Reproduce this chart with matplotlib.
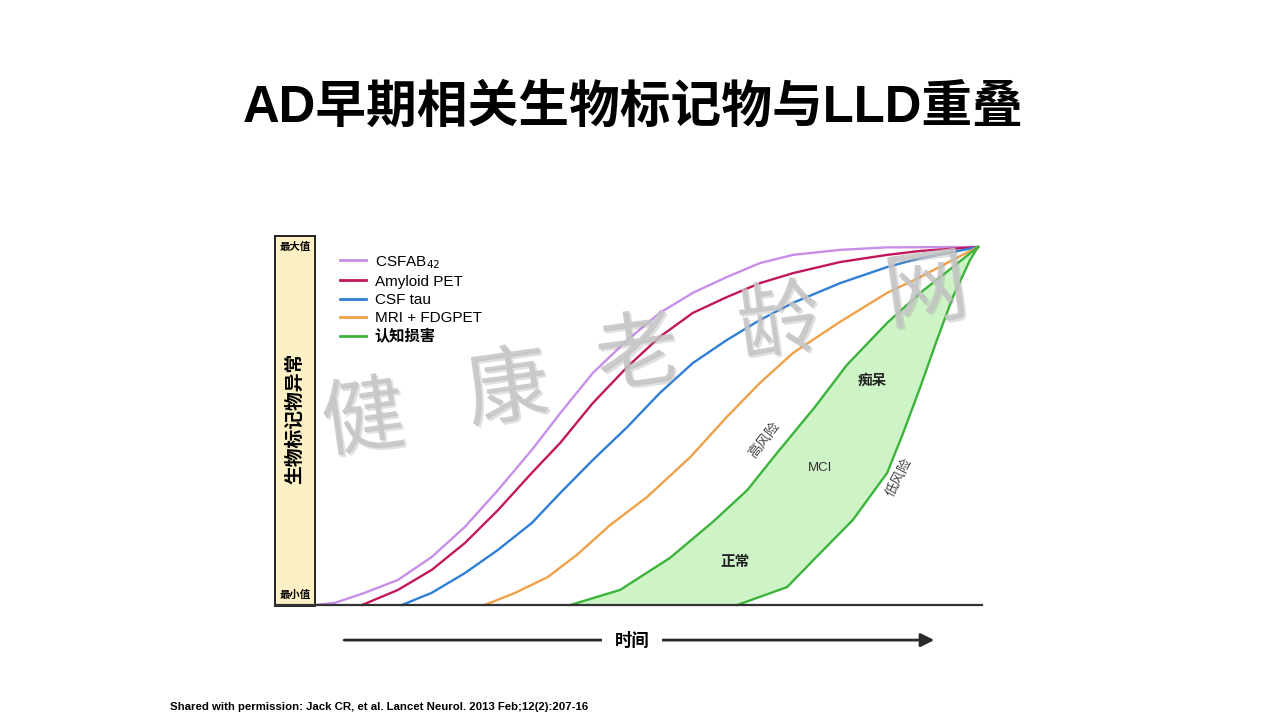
"""
AD早期相关生物标记物与LLD重叠 示意图
"""
import numpy as np
import matplotlib.pyplot as plt
import matplotlib.patheffects as pe
from matplotlib.patches import Rectangle
from matplotlib.lines import Line2D

plt.rcParams['font.family'] = ['Liberation Sans', 'Noto Sans CJK SC', 'DejaVu Sans']
plt.rcParams['axes.unicode_minus'] = False

# 曲线读数: 时间 (0-100), 生物标记物异常程度 (0-100)
ab42_t = [0, 3.0, 7.5, 12.5, 17.6, 22.6, 27.6, 32.7, 37.0, 41.9, 47.1, 52.0, 57.0, 62.1,
          67.1, 72.1, 79.2, 86.3, 100]
ab42_v = [0, 0.6, 3.4, 7.0, 13.4, 21.8, 32.1, 43.3, 53.6, 64.8, 74.0, 81.6, 87.2, 91.6,
          95.5, 97.8, 99.2, 99.9, 100]

amy_t = [7.1, 12.5, 17.6, 22.6, 27.6, 32.7, 37.0, 41.9, 47.1, 52.0, 57.0, 62.1, 67.1,
         72.1, 79.2, 86.3, 91.3, 100]
amy_v = [0, 4.2, 9.8, 17.3, 26.5, 36.9, 45.3, 56.4, 66.5, 74.9, 81.6, 86.0, 89.9,
         92.7, 95.8, 97.8, 98.9, 100]

tau_t = [13.1, 17.6, 22.6, 27.6, 32.7, 37.0, 41.9, 47.1, 52.0, 57.0, 62.1, 67.1, 72.1,
         79.2, 86.3, 91.3, 96.2, 100]
tau_v = [0, 3.4, 8.9, 15.4, 22.9, 31.3, 40.5, 49.7, 59.2, 67.6, 74.0, 79.6, 84.4,
         89.9, 94.4, 96.9, 98.6, 100]

mri_t = [25.6, 30.2, 35.1, 39.5, 44.5, 50.1, 56.6, 62.1, 67.1, 72.1, 79.2, 86.3, 91.3, 96.2, 100]
mri_v = [0, 3.4, 7.8, 14.0, 22.3, 30.2, 41.3, 52.5, 62.0, 70.4, 79.1, 87.2, 91.6, 96.4, 100]

# 认知损害: 高风险 / 低风险 两条边界
cog_hi_t = [38.5, 46.0, 53.5, 60.0, 65.2, 69.7, 75.4, 80.2, 86.3, 91.3, 96.2, 100]
cog_hi_v = [0, 4.2, 13.1, 23.2, 32.1, 42.5, 55.3, 67.0, 78.8, 87.2, 94.4, 100]

cog_lo_t = [63.7, 71.2, 76.2, 81.1, 86.3, 88.7, 91.3, 93.8, 96.2, 98.8, 100]
cog_lo_v = [0, 5.0, 14.5, 23.7, 36.9, 48.0, 60.9, 74.0, 86.0, 96.4, 100]

legend_labels = ['CSFAB$_{42}$', 'Amyloid PET', 'CSF tau', 'MRI + FDGPET', '认知损害']
colors = ['#c88ee8', '#c2185b', '#2e7fd6', '#f0a048', '#3cb43c']

fig = plt.figure(figsize=(12.8, 7.2), dpi=100)
fig.patch.set_facecolor('white')

ax = fig.add_axes([315 / 1280, 115 / 720, 663 / 1280, 358 / 720])
ax.set_xlim(0, 100)
ax.set_ylim(0, 100)
ax.axis('off')

# 认知损害区域填充
poly_t = np.concatenate([cog_hi_t, cog_lo_t[::-1]])
poly_v = np.concatenate([cog_hi_v, cog_lo_v[::-1]])
ax.fill(poly_t, poly_v, color='#cdf3c6', lw=0, zorder=1)

series = [(ab42_t, ab42_v), (amy_t, amy_v), (tau_t, tau_v), (mri_t, mri_v)]
for (t, v), c in zip(series, colors[:4]):
    ax.plot(t, v, color=c, lw=1.7, solid_joinstyle='round', zorder=3, clip_on=False)
ax.plot(cog_hi_t, cog_hi_v, color=colors[4], lw=1.7, solid_joinstyle='round', zorder=3, clip_on=False)
ax.plot(cog_lo_t, cog_lo_v, color=colors[4], lw=1.7, solid_joinstyle='round', zorder=3, clip_on=False)

# 左侧黄色标尺
ax.add_patch(Rectangle((-6.0, -0.3), 6.0, 103.4, facecolor='#fdf0c4', edgecolor='#222222',
                       lw=1.4, clip_on=False, zorder=2))
ax.text(-3.0, 100.0, '最大值', fontsize=7.5, fontweight='bold', ha='center', va='center')
ax.text(-3.0, 3.0, '最小值', fontsize=7.5, fontweight='bold', ha='center', va='center')
ax.text(-3.0, 52.0, '生物标记物异常', fontsize=13.5, fontweight='bold', rotation=90,
        ha='center', va='center')

# 底部基线
ax.add_line(Line2D([-6.0, 100.6], [0, 0], color='#333333', lw=1.6, clip_on=False, zorder=4))

# 时间箭头
ax.annotate('', xy=(93.4, -9.8), xytext=(4.4, -9.8), annotation_clip=False,
            arrowprops=dict(arrowstyle='-|>', color='#2a2a2a', lw=2.0, mutation_scale=20,
                            shrinkA=0, shrinkB=0))
ax.text(47.8, -9.8, '时间', fontsize=12.5, fontweight='bold', ha='center', va='center',
        bbox=dict(facecolor='white', edgecolor='none', pad=9))

# 区域标注
ax.text(63.3, 12.0, '正常', fontsize=10.5, fontweight='bold', ha='center', va='center', color='#222')
ax.text(76.2, 38.3, 'MCI', fontsize=9.5, ha='center', va='center', color='#333')
ax.text(84.0, 62.8, '痴呆', fontsize=10.5, fontweight='bold', ha='center', va='center', color='#222')
ax.text(67.9, 46.1, '高风险', fontsize=10, rotation=52, ha='center', va='center', color='#444')
ax.text(88.1, 35.8, '低风险', fontsize=10, rotation=62, ha='center', va='center', color='#444')

# 图例
handles = [Line2D([], [], color=c, lw=2) for c in colors]
leg = ax.legend(handles, legend_labels, loc='upper left', bbox_to_anchor=(0.038, 0.981),
                frameon=False, fontsize=11, handlelength=1.7, handletextpad=0.55,
                labelspacing=0.28, borderpad=0, borderaxespad=0)
leg.get_texts()[-1].set_fontweight('bold')

# 水印
for ch, (px, py) in zip('健康老龄网', [(364, 423), (508, 393), (638, 358), (780, 327), (927, 295)]):
    fig.text(px / 1280, 1 - py / 720, ch, fontsize=60, color='#c4c4c4', alpha=0.85,
             rotation=8, ha='center', va='center', zorder=10,
             path_effects=[pe.withSimplePatchShadow(offset=(1.5, -1.5), shadow_rgbFace='#999999',
                                                    alpha=0.3)])

# 标题 & 引用
fig.text(633 / 1280, 1 - 108 / 720, 'AD早期相关生物标记物与LLD重叠', fontsize=36.5,
         fontweight='bold', ha='center', va='center')
fig.text(170 / 1280, 1 - 707 / 720,
         'Shared with permission: Jack CR, et al. Lancet Neurol. 2013 Feb;12(2):207-16',
         fontsize=8.2, fontweight='bold', ha='left', va='center')

fig.savefig('out.png', dpi=100)
